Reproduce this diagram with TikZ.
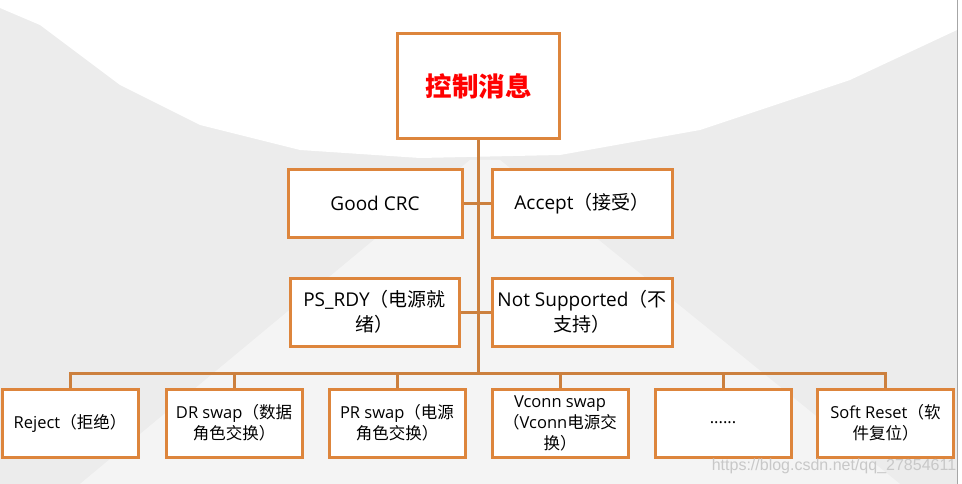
\documentclass[tikz,border=0pt]{standalone}
\usepackage{fontspec}
\setmainfont{Open Sans}
\newfontfamily\cjk{Noto Sans CJK SC}
\newfontfamily\wmfont{Liberation Sans}
\usetikzlibrary{backgrounds}
\definecolor{boxor}{RGB}{221,133,60}
\definecolor{lineor}{RGB}{204,128,62}
\definecolor{bgray}{RGB}{236,236,236}
\definecolor{wmgray}{RGB}{200,200,200}
\begin{document}
\begin{tikzpicture}[x=1pt,y=-1pt,
  box/.style={draw=boxor,line width=3pt,fill=white,inner sep=0pt,align=center},
  mid/.style={box,minimum height=67pt,font=\fontsize{19}{25}\selectfont},
  low/.style={box,minimum width=136pt,minimum height=68pt,font=\fontsize{16.5}{21}\selectfont},
  conn/.style={draw=lineor,line width=3pt}]
\useasboundingbox (0,0) rectangle (962,484);

% boxes
\node[box,minimum width=162pt,minimum height=105pt,text=red,
      font=\cjk\bfseries\fontsize{26.5}{30}\selectfont] (top) at (478.5,86.5) {控制消息};
\node[mid,minimum width=174pt] (good) at (375,203.5) {Good CRC};
\node[mid,minimum width=180pt] (acc) at (582,203.5) {Accept{\cjk（接受）}};
\node[mid,minimum width=169pt,minimum height=68pt] (ps) at (374.5,312) {PS\_RDY{\cjk（电源就}\\{\cjk 绪）}};
\node[mid,minimum width=180pt,minimum height=68pt] (ns) at (582,312) {Not Supported{\cjk（不}\\{\cjk 支持）}};

\node[low] (rej) at (70,423) {Reject{\cjk（拒绝）}};
\node[low] (dr) at (234,423) {DR swap{\cjk（数据}\\{\cjk 角色交换）}};
\node[low] (pr) at (397,423) {PR swap{\cjk（电源}\\{\cjk 角色交换）}};
\node[low] (vc) at (560,423) {Vconn swap\\{\cjk（}Vconn{\cjk 电源交}\\{\cjk 换）}};
\node[low] (dots) at (723,423) {......};
\node[low] (soft) at (885.5,423) {Soft Reset{\cjk（软}\\{\cjk 件复位）}};

\node[font=\wmfont\fontsize{16}{18}\selectfont,text=wmgray,inner sep=0pt] (wm) at (834,466) {https://blog.csdn.net/qq\_27854611};

\coordinate (bus) at (478.5,373);

\begin{scope}[on background layer]
  % background imitation
  \fill[bgray] (0,0) rectangle (957,484);
  \fill[white] (0,0) -- (957,0) -- (957,30) -- (850,80) -- (700,130) -- (560,155)
     -- (420,158) -- (300,150) -- (200,125) -- (120,85) -- (40,25) -- (0,8) -- cycle;
  \fill[white,opacity=0.45] (470,160) -- (500,160) -- (900,484) -- (80,484) -- cycle;
  \fill[white] (958,0) rectangle (962,484);
  \draw[gray!70,line width=1pt] (957.5,0) -- (957.5,484);
  % connectors
  \draw[conn] (top.south) -- (top.south |- bus);
  \draw[conn] (good.east) -- (acc.west);
  \draw[conn] (ps.east) -- (ns.west);
  \draw[conn] (rej.north) |- (bus) -| (soft.north);
  \foreach \n in {dr,pr,vc,dots} \draw[conn] (\n.north) -- (\n.north |- bus);
\end{scope}
\end{tikzpicture}
\end{document}
